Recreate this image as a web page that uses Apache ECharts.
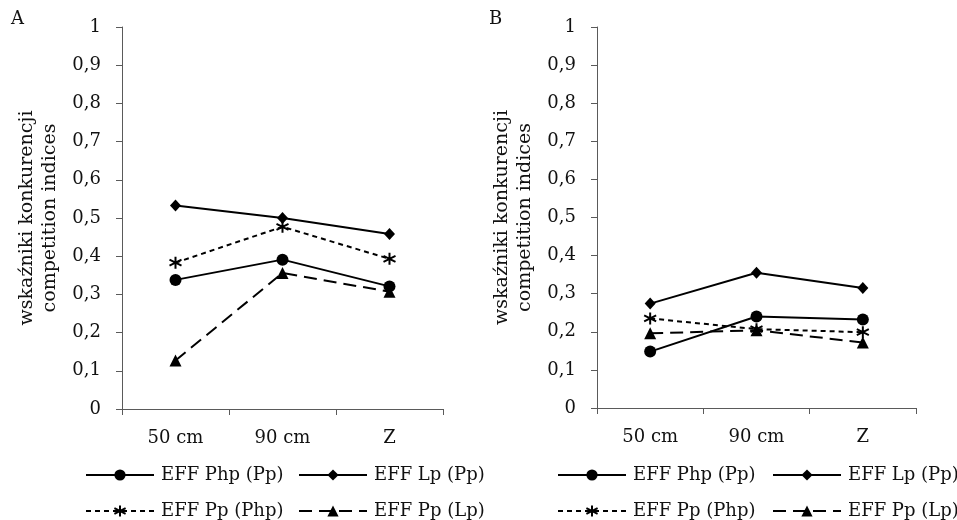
<!DOCTYPE html>
<html>
<head>
<meta charset="utf-8">
<script src="https://cdn.jsdelivr.net/npm/echarts@6/dist/echarts.min.js"></script>
<style>html,body{margin:0;padding:0;background:#fff}#c{width:957px;height:520px}</style>
</head>
<body>
<div id="c"></div>
<script>
const categories = ['50 cm', '90 cm', 'Z'];
const seriesNames = ['EFF Php (Pp)', 'EFF Lp (Pp)', 'EFF Pp (Php)', 'EFF Pp (Lp)'];
const panelTitles = ['A', 'B'];
const yAxisName = 'wskaźniki konkurencji\ncompetition indices';

// Panel A values
const a_PhpPp = [0.338, 0.391, 0.321];
const a_LpPp  = [0.533, 0.500, 0.458];
const a_PpPhp = [0.383, 0.477, 0.393];
const a_PpLp  = [0.127, 0.356, 0.307];
// Panel B values
const b_PhpPp = [0.148, 0.240, 0.232];
const b_LpPp  = [0.274, 0.355, 0.315];
const b_PpPhp = [0.235, 0.207, 0.199];
const b_PpLp  = [0.196, 0.204, 0.172];

const FONT = 'DejaVu Serif';
const AX = '#5a5a5a';
const STAR = 'path://M0,-6L0,6M-5.2,-3L5.2,3M-5.2,3L5.2,-3';

const styles = [
  {symbol: 'circle', symbolSize: 12, line: {type: 'solid', width: 2}, item: {color: '#000'}},
  {symbol: 'diamond', symbolSize: [11, 12], line: {type: 'solid', width: 2}, item: {color: '#000'}},
  {symbol: STAR, symbolSize: 12, line: {type: [5, 4], width: 2}, item: {color: '#000', borderColor: '#000', borderWidth: 2}},
  {symbol: 'triangle', symbolSize: 12, line: {type: [13, 7], width: 2}, item: {color: '#000'}}
];

function makeSeries(values, gridIdx) {
  return values.map((vals, i) => ({
    name: seriesNames[i],
    type: 'line',
    xAxisIndex: gridIdx,
    yAxisIndex: gridIdx,
    data: vals,
    symbol: styles[i].symbol,
    symbolSize: styles[i].symbolSize,
    lineStyle: Object.assign({color: '#000'}, styles[i].line),
    itemStyle: styles[i].item,
    emphasis: {disabled: true},
    animation: false,
    z: 10 - i
  }));
}

function xAxis(gridIdx) {
  return {
    type: 'category', gridIndex: gridIdx, data: categories, boundaryGap: true,
    axisLine: {lineStyle: {color: AX, width: 1}},
    axisTick: {show: true, length: 6, lineStyle: {color: AX}},
    axisLabel: {fontFamily: FONT, fontSize: 18, color: '#111', margin: 20},
    splitLine: {show: false}
  };
}
function yAxis(gridIdx) {
  return {
    type: 'value', gridIndex: gridIdx, min: 0, max: 1, interval: 0.1,
    name: yAxisName, nameLocation: 'middle', nameRotate: 90, nameGap: 60,
    nameTextStyle: {fontFamily: FONT, fontSize: 19, color: '#111', lineHeight: 23},
    axisLine: {show: true, lineStyle: {color: AX, width: 1}},
    axisTick: {show: true, length: 6, lineStyle: {color: AX}},
    axisLabel: {fontFamily: FONT, fontSize: 18, color: '#111', margin: 21,
      formatter: v => String(Math.round(v * 10) / 10).replace('.', ',')},
    splitLine: {show: false}
  };
}

function legend(name, left, top) {
  return {
    data: [name], left: left, top: top, padding: 0,
    itemWidth: 68, itemHeight: 14, itemGap: 0,
    textStyle: {fontFamily: FONT, fontSize: 18, color: '#111', padding: [0, 0, 0, 2]},
    selectedMode: false
  };
}

const rowTop = [466, 502];
const legends = [
  legend(seriesNames[0], 85, rowTop[0]), legend(seriesNames[1], 298, rowTop[0]),
  legend(seriesNames[2], 85, rowTop[1]), legend(seriesNames[3], 298, rowTop[1]),
  legend(seriesNames[0], 557, rowTop[0]), legend(seriesNames[1], 772, rowTop[0]),
  legend(seriesNames[2], 557, rowTop[1]), legend(seriesNames[3], 772, rowTop[1])
];

const chart = echarts.init(document.getElementById('c'), null, {renderer: 'canvas'});
chart.setOption({
  backgroundColor: '#fff',
  animation: false,
  title: [
    {text: panelTitles[0], left: 11, top: 10, padding: 0, textStyle: {fontFamily: FONT, fontSize: 18, fontWeight: 'normal', color: '#111'}},
    {text: panelTitles[1], left: 489, top: 10, padding: 0, textStyle: {fontFamily: FONT, fontSize: 18, fontWeight: 'normal', color: '#111'}}
  ],
  grid: [
    {left: 122, top: 27, width: 321, height: 382, containLabel: false},
    {left: 597, top: 27, width: 319, height: 381, containLabel: false}
  ],
  xAxis: [xAxis(0), xAxis(1)],
  yAxis: [yAxis(0), yAxis(1)],
  legend: legends,
  series: makeSeries([a_PhpPp, a_LpPp, a_PpPhp, a_PpLp], 0)
    .concat(makeSeries([b_PhpPp, b_LpPp, b_PpPhp, b_PpLp], 1))
});
</script>
</body>
</html>
